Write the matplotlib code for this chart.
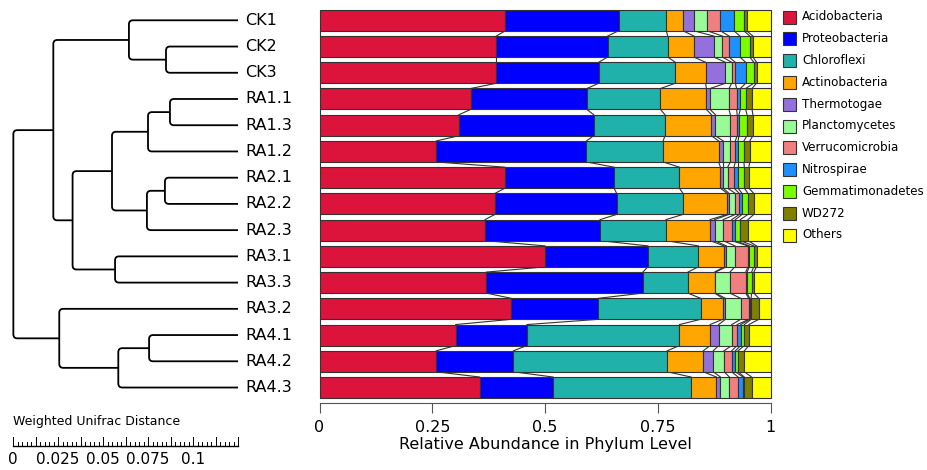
import numpy as np
import matplotlib
matplotlib.use("Agg")
import matplotlib.pyplot as plt
from matplotlib.path import Path
from matplotlib.patches import PathPatch, Rectangle

samples = ["CK1", "CK2", "CK3", "RA1.1", "RA1.3", "RA1.2", "RA2.1", "RA2.2",
           "RA2.3", "RA3.1", "RA3.3", "RA3.2", "RA4.1", "RA4.2", "RA4.3"]

phyla = ["Acidobacteria", "Proteobacteria", "Chloroflexi", "Actinobacteria",
         "Thermotogae", "Planctomycetes", "Verrucomicrobia", "Nitrospirae",
         "Gemmatimonadetes", "WD272", "Others"]
colors = ["#DC143C", "#0000FF", "#20B2AA", "#FFA500", "#9370DB", "#98FB98",
          "#F08080", "#1E90FF", "#7CFC00", "#808000", "#FFFF00"]

# relative abundance per phylum, one value per sample (order of `samples`)
acido = [.412, .392, .392, .335, .309, .259, .411, .389, .367, .500, .370, .425, .302, .259, .355]
proteo = [.251, .247, .227, .258, .299, .333, .242, .270, .255, .228, .347, .193, .158, .171, .163]
chloro = [.106, .133, .170, .163, .158, .170, .145, .147, .146, .112, .100, .227, .338, .341, .306]
actino = [.037, .058, .067, .102, .103, .123, .091, .098, .098, .057, .059, .049, .068, .080, .056]
thermo = [.024, .044, .044, .008, .009, .010, .006, .004, .010, .005, .002, .006, .019, .022, .009]
planct = [.030, .019, .014, .042, .033, .016, .010, .014, .019, .019, .032, .034, .029, .024, .020]
verru = [.029, .015, .008, .017, .015, .011, .014, .009, .019, .029, .035, .018, .012, .017, .019]
nitro = [.030, .024, .023, .008, .004, .006, .009, .006, .008, .003, .003, .002, .008, .008, .011]
gemma = [.022, .022, .018, .012, .018, .013, .014, .013, .011, .010, .010, .003, .008, .006, .003]
wd272 = [.006, .007, .006, .014, .013, .013, .010, .013, .017, .006, .005, .017, .010, .014, .016]
others = [.053, .039, .031, .041, .039, .046, .048, .037, .050, .031, .037, .026, .048, .058, .042]

# UPGMA-style tree: (height, left, right), leaves are indices into `samples`
tree = (0.1248,
        (0.1026,
         (0.0606, 0, (0.040, 1, 2)),
         (0.0919,
          (0.070,
           (0.050, (0.0378, 3, 4), 5),
           (0.0506, (0.0406, 6, 7), 8)),
          (0.0683, 9, 10))),
        (0.0993, 11, (0.0665, (0.0494, 12, 13), 14)))

scale_ticks = [0, 0.025, 0.05, 0.075, 0.1]
scale_max = 0.125

W, H = 927, 470
fig = plt.figure(figsize=(W / 100, H / 100), dpi=100)


def px_axes(x0, y0, x1, y1):
    return fig.add_axes([x0 / W, 1 - y1 / H, (x1 - x0) / W, (y1 - y0) / H])


# row geometry shared by the bars and the dendrogram
row0, pitch, axis_y = 20.3, 26.23, 403
ylim = ((axis_y - row0) / pitch, -row0 / pitch)

# ---- stacked bars
ax = px_axes(319.5, 0, 770.5, axis_y)
data = np.array([acido, proteo, chloro, actino, thermo, planct, verru,
                 nitro, gemma, wd272, others])
bounds = np.vstack([np.zeros(len(samples)), np.cumsum(data, axis=0)])
rows = np.arange(len(samples))
bh = 0.8
for k, name in enumerate(phyla):
    ax.barh(rows, data[k], left=bounds[k], height=bh, color=colors[k],
            edgecolor="#333333", linewidth=0.8, clip_on=False, zorder=3)
# connectors between neighbouring bars
for k in range(bounds.shape[0]):
    for i in range(len(samples) - 1):
        ax.plot([bounds[k, i], bounds[k, i + 1]], [i + bh / 2, i + 1 - bh / 2],
                color="#333333", lw=0.8, clip_on=False, zorder=2)
ax.set_xlim(0, 1)
ax.set_ylim(*ylim)
for s in ["top", "left", "right"]:
    ax.spines[s].set_visible(False)
ax.spines["bottom"].set_color("#555555")
ax.set_yticks([])
ax.set_xticks([0, 0.25, 0.5, 0.75, 1])
ax.set_xticklabels(["0", "0.25", "0.5", "0.75", "1"])
ax.tick_params(axis="x", direction="out", length=7, color="#555555",
               labelsize=11.5, pad=5)
ax.set_xlabel("Relative Abundance in Phylum Level", fontsize=11.5, labelpad=2)
ax.patch.set_visible(False)

# ---- dendrogram
dax = px_axes(0, 0, 319, axis_y)
dax.set_xlim(238 / 1800, -81 / 1800)
dax.set_ylim(*ylim)
dax.axis("off")
rx, ry = 4 / 1800, 4 / pitch


def draw_node(node):
    if not isinstance(node, tuple):
        return 0.0, float(node)
    h, left, right = node
    hl, yl = draw_node(left)
    hr, yr = draw_node(right)
    cx = min(rx, h - hl, h - hr)
    cy = min(ry, (yr - yl) / 2)
    verts = [(hl, yl), (h - cx, yl), (h, yl), (h, yl + cy), (h, yr - cy),
             (h, yr), (h - cx, yr), (hr, yr)]
    codes = [Path.MOVETO, Path.LINETO, Path.CURVE3, Path.CURVE3, Path.LINETO,
             Path.CURVE3, Path.CURVE3, Path.LINETO]
    dax.add_patch(PathPatch(Path(verts, codes), fill=False, lw=1.3,
                            edgecolor="black", capstyle="butt"))
    return h, (yl + yr) / 2


draw_node(tree)
for i, s in enumerate(samples):
    dax.text(-7 / 1800, i, s, ha="left", va="center", fontsize=11.5)

# ---- distance scale bar
sax = px_axes(0, axis_y, 319, H)
sax.set_xlim(-13 / 1800, 306 / 1800)
sax.set_ylim(H, axis_y)
sax.axis("off")
base = 446
sax.plot([0, scale_max], [base, base], color="black", lw=1.0)
for j, t in enumerate(np.linspace(0, scale_max, 51)):
    top = base - (9 if j % 5 == 0 else 4.5)
    sax.plot([t, t], [base, top], color="black", lw=0.7)
for t in scale_ticks:
    sax.text(t, 459, f"{t:g}", ha="center", va="center", fontsize=11)
sax.text(0, 421, "Weighted Unifrac Distance", ha="left", va="center", fontsize=9)

# ---- legend
lax = px_axes(770, 0, W, H)
lax.set_xlim(770, W)
lax.set_ylim(H, 0)
lax.axis("off")
for k, name in enumerate(phyla):
    y = 17 + 21.8 * k
    lax.add_patch(Rectangle((783, y - 6.5), 13, 13, facecolor=colors[k],
                            edgecolor="#333333", lw=0.8))
    lax.text(802, y, name, ha="left", va="center", fontsize=8.6)

plt.savefig("out.png", dpi=100)
